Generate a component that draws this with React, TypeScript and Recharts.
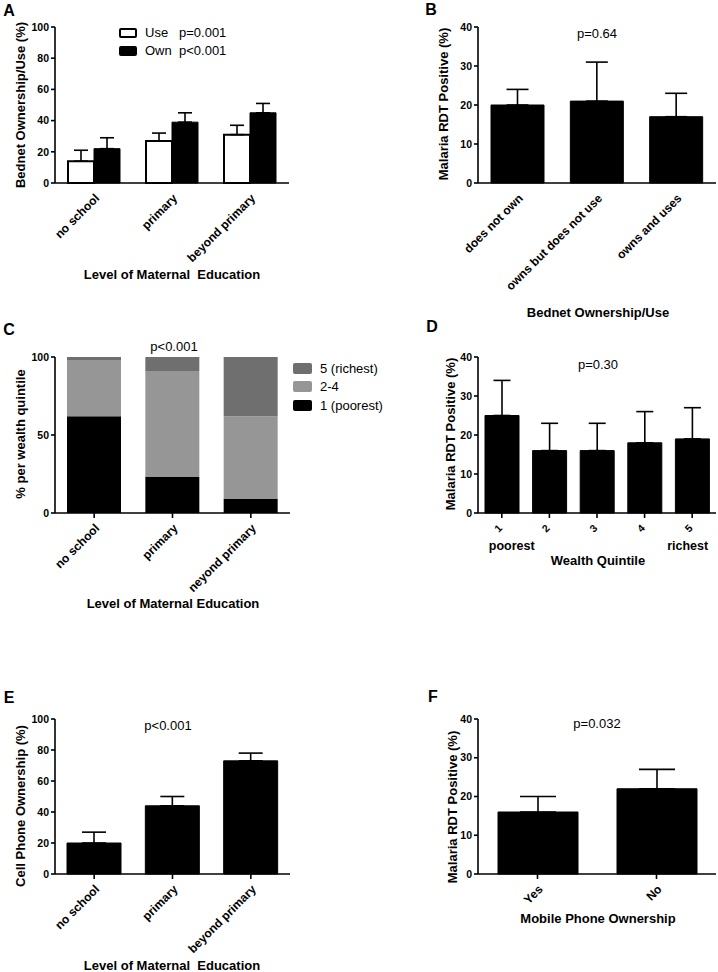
import React from 'react';
import { BarChart, Bar, XAxis, YAxis, ErrorBar, Legend } from 'recharts';

const FONT = 'Arial, "Liberation Sans", Helvetica, sans-serif';

// A: bednet use / ownership by maternal education
const eduLevels = ['no school', 'primary', 'beyond primary'];
const netSeries = ['Use', 'Own'];
const netP = ['p=0.001', 'p<0.001'];
const netUse = [14, 27, 31];
const netUseTop = [21, 32, 37];
const netOwn = [22, 39, 45];
const netOwnTop = [29, 45, 51];

// B: RDT positive by bednet status
const netStatus = ['does not own', 'owns but does not use', 'owns and uses'];
const rdtByNet = [20, 21, 17];
const rdtByNetTop = [24, 31, 23];

// C: wealth quintile share by education (label typo is in the original)
const eduLevelsC = ['no school', 'primary', 'neyond primary'];
const quintileGroups = ['5 (richest)', '2-4', '1 (poorest)'];
const poorest = [62, 23, 9];
const middle = [36, 68, 53];
const richest = [2, 9, 38];

// D: RDT positive by wealth quintile
const quintiles = ['1', '2', '3', '4', '5'];
const quintileNotes = ['poorest', '', '', '', 'richest'];
const rdtByWealth = [25, 16, 16, 18, 19];
const rdtByWealthTop = [34, 23, 23, 26, 27];

// E: cell phone ownership by education
const phoneByEdu = [20, 44, 73];
const phoneByEduTop = [27, 50, 78];

// F: RDT positive by mobile phone ownership
const phoneOwn = ['Yes', 'No'];
const rdtByPhone = [16, 22];
const rdtByPhoneTop = [20, 27];

const ticks100 = [0, 20, 40, 60, 80, 100];
const ticks40 = [0, 10, 20, 30, 40];
const ticksC = [0, 50, 100];
const quintileColors = ['#6f6f6f', '#969696', '#000000'];

const dataA = eduLevels.map((name, i) => ({
  name,
  use: netUse[i],
  own: netOwn[i],
  useErr: [0, netUseTop[i] - netUse[i]],
  ownErr: [0, netOwnTop[i] - netOwn[i]],
}));
const dataB = netStatus.map((name, i) => ({ name, v: rdtByNet[i], err: [0, rdtByNetTop[i] - rdtByNet[i]] }));
const dataC = eduLevelsC.map((name, i) => ({ name, q1: poorest[i], q24: middle[i], q5: richest[i] }));
const dataD = quintiles.map((name, i) => ({ name, v: rdtByWealth[i], err: [0, rdtByWealthTop[i] - rdtByWealth[i]] }));
const dataE = eduLevels.map((name, i) => ({ name, v: phoneByEdu[i], err: [0, phoneByEduTop[i] - phoneByEdu[i]] }));
const dataF = phoneOwn.map((name, i) => ({ name, v: rdtByPhone[i], err: [0, rdtByPhoneTop[i] - rdtByPhone[i]] }));

const axisLine = { stroke: '#000', strokeWidth: 1.6 };
const numTick = { fontFamily: FONT, fontSize: 10.5, fontWeight: 700, fill: '#000' };

function SlantTick(props: any) {
  const { x, payload, axisY } = props;
  const tx = x + 6;
  const ty = axisY + 16;
  return (
    <text x={tx} y={ty} transform={`rotate(-45 ${tx} ${ty})`} textAnchor="end"
      fontFamily={FONT} fontSize={12} fontWeight={700} fill="#000">
      {payload.value}
    </text>
  );
}

function QuintileTick(props: any) {
  const { x, payload, index, axisY } = props;
  const tx = x - 1;
  const ty = axisY + 18;
  const note = quintileNotes[index];
  const first = index === 0;
  return (
    <g>
      <text x={tx} y={ty} transform={`rotate(-45 ${tx} ${ty})`} textAnchor="middle"
        fontFamily={FONT} fontSize={10.5} fontWeight={700} fill="#000">
        {payload.value}
      </text>
      {note && (
        <text x={first ? x - 13 : x + 16} y={axisY + 37} textAnchor={first ? 'start' : 'end'}
          fontFamily={FONT} fontSize={12.5} fontWeight={700} fill="#000">
          {note}
        </text>
      )}
    </g>
  );
}

function Caption({ x, y, text, size = 13, bold = true, rotate = false }: any) {
  return (
    <div style={{
      position: 'absolute', left: x, top: y, whiteSpace: 'pre', lineHeight: 1,
      fontFamily: FONT, fontSize: size, fontWeight: bold ? 700 : 400, color: '#000',
      transform: `translate(-50%, -50%)${rotate ? ' rotate(-90deg)' : ''}`,
    }}>
      {text}
    </div>
  );
}

const NetLegend = () => (
  <div style={{ fontFamily: FONT, fontSize: 13, color: '#000' }}>
    {netSeries.map((s, i) => (
      <div key={s} style={{ display: 'flex', alignItems: 'center', height: 18 }}>
        <span style={{
          boxSizing: 'border-box', width: 18, height: 10, border: '2px solid #000', borderRadius: 2,
          background: i === 0 ? '#fff' : '#000', marginRight: 8,
        }} />
        <span style={{ width: 34 }}>{s}</span>
        <span>{netP[i]}</span>
      </div>
    ))}
  </div>
);

const WealthLegend = () => (
  <div style={{ fontFamily: FONT, fontSize: 13, color: '#000' }}>
    {quintileGroups.map((s, i) => (
      <div key={s} style={{ display: 'flex', alignItems: 'center', height: 18.3, whiteSpace: 'nowrap' }}>
        <span style={{ width: 19, height: 11, borderRadius: 2, background: quintileColors[i], marginRight: 8 }} />
        <span>{s}</span>
      </div>
    ))}
  </div>
);

function Box({ left, top, children }: any) {
  return <div style={{ position: 'absolute', left, top }}>{children}</div>;
}

export default function App() {
  return (
    <div style={{ position: 'absolute', left: 0, top: 0, width: 718, height: 972, background: '#fff' }}>
      {/* A */}
      <Box left={0} top={0}>
        <BarChart width={300} height={298} data={dataA} barGap={0} barSize={26}
          margin={{ top: 27, right: 11, bottom: 0, left: 0 }}>
          <YAxis width={55} domain={[0, 100]} ticks={ticks100} interval={0} tickSize={4} tickMargin={2}
            axisLine={axisLine} tickLine={axisLine} tick={numTick} />
          <XAxis dataKey="name" height={115} interval={0} axisLine={axisLine} tickLine={false}
            tick={(p: any) => <SlantTick {...p} axisY={183} />} />
          <Legend layout="vertical" align="center" verticalAlign="middle"
            wrapperStyle={{ left: 119, top: 23.5, width: 160 }} content={NetLegend} />
          <Bar dataKey="use" fill="#fff" stroke="#000" strokeWidth={2} isAnimationActive={false}>
            <ErrorBar dataKey="useErr" width={7} stroke="#000" strokeWidth={1.6} direction="y" />
          </Bar>
          <Bar dataKey="own" fill="#000" stroke="#000" strokeWidth={1} isAnimationActive={false}>
            <ErrorBar dataKey="ownErr" width={7} stroke="#000" strokeWidth={1.6} direction="y" />
          </Bar>
        </BarChart>
      </Box>

      {/* B */}
      <Box left={360} top={0}>
        <BarChart width={358} height={298} data={dataB} barSize={53}
          margin={{ top: 27, right: 2, bottom: 0, left: 0 }}>
          <YAxis width={118} domain={[0, 40]} ticks={ticks40} interval={0} tickSize={4} tickMargin={2}
            axisLine={axisLine} tickLine={axisLine} tick={numTick} />
          <XAxis dataKey="name" height={115} interval={0} axisLine={axisLine} tickLine={false}
            tick={(p: any) => <SlantTick {...p} axisY={183} />} />
          <Bar dataKey="v" fill="#000" stroke="#000" strokeWidth={1} isAnimationActive={false}>
            <ErrorBar dataKey="err" width={11} stroke="#000" strokeWidth={1.6} direction="y" />
          </Bar>
        </BarChart>
      </Box>

      {/* C */}
      <Box left={0} top={330}>
        <BarChart width={385} height={273} data={dataC} barSize={54}
          margin={{ top: 27, right: 95, bottom: 0, left: 0 }}>
          <YAxis width={55} domain={[0, 100]} ticks={ticksC} interval={0} tickSize={4} tickMargin={2}
            axisLine={axisLine} tickLine={axisLine} tick={numTick} />
          <XAxis dataKey="name" height={90} interval={0} axisLine={axisLine} tickLine={axisLine} tickSize={5}
            tick={(p: any) => <SlantTick {...p} axisY={183} />} />
          <Legend layout="vertical" align="center" verticalAlign="middle"
            wrapperStyle={{ left: 293, top: 29.5, width: 92 }} content={WealthLegend} />
          <Bar dataKey="q1" stackId="w" fill={quintileColors[2]} isAnimationActive={false} />
          <Bar dataKey="q24" stackId="w" fill={quintileColors[1]} isAnimationActive={false} />
          <Bar dataKey="q5" stackId="w" fill={quintileColors[0]} isAnimationActive={false} />
        </BarChart>
      </Box>

      {/* D */}
      <Box left={360} top={330}>
        <BarChart width={358} height={240} data={dataD} barSize={34}
          margin={{ top: 27, right: 2, bottom: 0, left: 0 }}>
          <YAxis width={118} domain={[0, 40]} ticks={ticks40} interval={0} tickSize={4} tickMargin={2}
            axisLine={axisLine} tickLine={axisLine} tick={numTick} />
          <XAxis dataKey="name" height={57} interval={0} axisLine={axisLine} tickLine={axisLine} tickSize={5}
            tick={(p: any) => <QuintileTick {...p} axisY={183} />} />
          <Bar dataKey="v" fill="#000" stroke="#000" strokeWidth={1} isAnimationActive={false}>
            <ErrorBar dataKey="err" width={8.5} stroke="#000" strokeWidth={1.6} direction="y" />
          </Bar>
        </BarChart>
      </Box>

      {/* E */}
      <Box left={0} top={692}>
        <BarChart width={300} height={272} data={dataE} barSize={54}
          margin={{ top: 27, right: 10, bottom: 0, left: 0 }}>
          <YAxis width={55} domain={[0, 100]} ticks={ticks100} interval={0} tickSize={4} tickMargin={2}
            axisLine={axisLine} tickLine={axisLine} tick={numTick} />
          <XAxis dataKey="name" height={90} interval={0} axisLine={axisLine} tickLine={axisLine} tickSize={5}
            tick={(p: any) => <SlantTick {...p} axisY={182} />} />
          <Bar dataKey="v" fill="#000" stroke="#000" strokeWidth={1} isAnimationActive={false}>
            <ErrorBar dataKey="err" width={12} stroke="#000" strokeWidth={1.6} direction="y" />
          </Bar>
        </BarChart>
      </Box>

      {/* F */}
      <Box left={360} top={692}>
        <BarChart width={358} height={240} data={dataF} barSize={80}
          margin={{ top: 27, right: 2, bottom: 0, left: 0 }}>
          <YAxis width={118} domain={[0, 40]} ticks={ticks40} interval={0} tickSize={4} tickMargin={2}
            axisLine={axisLine} tickLine={axisLine} tick={numTick} />
          <XAxis dataKey="name" height={58} interval={0} axisLine={axisLine} tickLine={axisLine} tickSize={5}
            tick={(p: any) => <SlantTick {...p} axisY={182} />} />
          <Bar dataKey="v" fill="#000" stroke="#000" strokeWidth={1} isAnimationActive={false}>
            <ErrorBar dataKey="err" width={18} stroke="#000" strokeWidth={1.6} direction="y" />
          </Bar>
        </BarChart>
      </Box>

      {/* panel letters */}
      <Caption x={9} y={11} text="A" size={16} />
      <Caption x={431} y={10} text="B" size={16} />
      <Caption x={9} y={330} text="C" size={16} />
      <Caption x={432} y={327} text="D" size={16} />
      <Caption x={9} y={698} text="E" size={16} />
      <Caption x={433} y={697} text="F" size={16} />

      {/* axis titles */}
      <Caption x={20} y={105} text="Bednet Ownership/Use (%)" rotate />
      <Caption x={443} y={104} text="Malaria RDT Positive (%)" rotate />
      <Caption x={20} y={434} text="% per wealth quintile" rotate />
      <Caption x={450} y={434} text="Malaria RDT Positive (%)" rotate />
      <Caption x={20} y={806} text="Cell Phone Ownership (%)" rotate />
      <Caption x={452} y={807} text="Malaria RDT Positive (%)" rotate />

      <Caption x={172} y={274} text="Level of Maternal  Education" />
      <Caption x={598} y={312} text="Bednet Ownership/Use" />
      <Caption x={173} y={603} text="Level of Maternal Education" />
      <Caption x={598} y={560} text="Wealth Quintile" />
      <Caption x={172} y={965} text="Level of Maternal  Education" />
      <Caption x={598} y={918} text="Mobile Phone Ownership" />

      {/* p-values */}
      <Caption x={597} y={33} text="p=0.64" bold={false} />
      <Caption x={174} y={346} text="p<0.001" bold={false} />
      <Caption x={598} y={364} text="p=0.30" bold={false} />
      <Caption x={168} y={725} text="p<0.001" bold={false} />
      <Caption x={597} y={723} text="p=0.032" bold={false} />
    </div>
  );
}
